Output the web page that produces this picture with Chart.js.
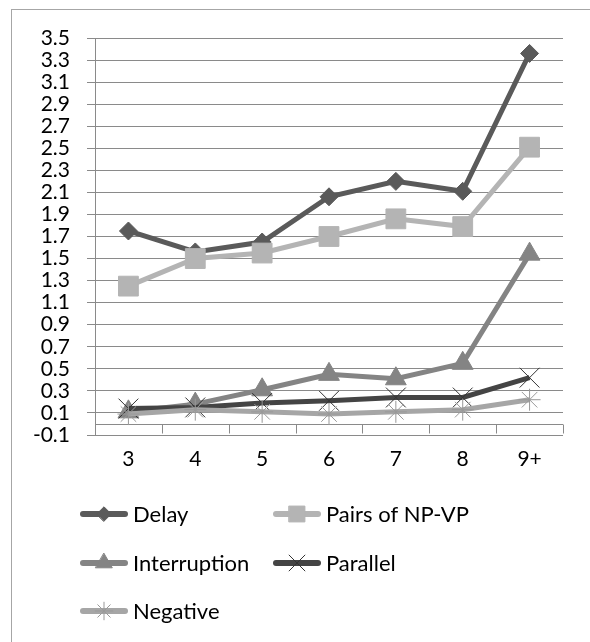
<!DOCTYPE html>
<html>
<head>
<meta charset="utf-8">
<script src="https://cdn.jsdelivr.net/npm/chart.js@4.4.0/dist/chart.umd.min.js"></script>
<style>
  html, body { margin: 0; padding: 0; background: #fff; overflow: hidden; }
  #frame { position: absolute; left: 11px; top: 9px; width: 700px; height: 700px; border: 1px solid #a6a6a6; }
  #chart { position: absolute; left: 0; top: 0; }
</style>
</head>
<body>
<div id="frame"></div>
<canvas id="chart" width="590" height="642"></canvas>
<script>
const categories = ["3", "4", "5", "6", "7", "8", "9+"];
const delay = [1.75, 1.56, 1.65, 2.06, 2.2, 2.11, 3.36];
const pairsNpVp = [1.25, 1.5, 1.55, 1.7, 1.86, 1.79, 2.51];
const interruption = [0.11, 0.18, 0.31, 0.45, 0.41, 0.55, 1.54];
const parallel = [0.14, 0.15, 0.19, 0.21, 0.24, 0.24, 0.42];
const negative = [0.09, 0.13, 0.11, 0.09, 0.11, 0.13, 0.22];
const yTicks = [-0.1, 0.1, 0.3, 0.5, 0.7, 0.9, 1.1, 1.3, 1.5, 1.7, 1.9, 2.1, 2.3, 2.5, 2.7, 2.9, 3.1, 3.3, 3.5];

const GRID = "#8a8a8a";
const FONT = "Lato";

// legend slots: left x of the line sample, centre y of the row
const legendSlots = [
  { x: 80, y: 514 }, { x: 273, y: 514 },
  { x: 80, y: 563 }, { x: 273, y: 563 },
  { x: 80, y: 611 },
];

function series(label, data, color, style, radius, extra) {
  return Object.assign({
    label,
    data,
    borderColor: color,
    backgroundColor: color,
    borderWidth: 5,
    pointStyle: style,
    pointRadius: radius,
    pointHoverRadius: radius,
    pointBackgroundColor: color,
    pointBorderColor: color,
    pointBorderWidth: 1,
    tension: 0,
  }, extra || {});
}

const zeroAxis = {
  id: "zeroAxis",
  beforeDatasetsDraw(chart) {
    const { ctx, chartArea, scales } = chart;
    const x = scales.x;
    const y0 = Math.round(scales.y.getPixelForValue(0)) + 0.5;
    ctx.save();
    ctx.strokeStyle = GRID;
    ctx.lineWidth = 1;
    ctx.beginPath();
    ctx.moveTo(chartArea.left, y0);
    ctx.lineTo(chartArea.right, y0);
    for (let i = 0; i <= categories.length; i++) {
      let px;
      if (i === 0) px = chartArea.left;
      else if (i === categories.length) px = chartArea.right;
      else px = (x.getPixelForValue(i - 1) + x.getPixelForValue(i)) / 2;
      px = Math.round(px) + 0.5;
      ctx.moveTo(px, y0);
      ctx.lineTo(px, y0 + 9);
    }
    ctx.stroke();
    ctx.restore();
  },
};

const sideLegend = {
  id: "sideLegend",
  afterDraw(chart) {
    const ctx = chart.ctx;
    chart.data.datasets.forEach((ds, i) => {
      const slot = legendSlots[i];
      if (!slot) return;
      ctx.save();
      ctx.strokeStyle = ds.borderColor;
      ctx.lineWidth = 6;
      ctx.lineCap = "round";
      ctx.beginPath();
      ctx.moveTo(slot.x + 3, slot.y);
      ctx.lineTo(slot.x + 45, slot.y);
      ctx.stroke();
      ctx.fillStyle = ds.pointBackgroundColor;
      ctx.strokeStyle = ds.pointBorderColor;
      ctx.lineWidth = ds.pointBorderWidth;
      Chart.helpers.drawPoint(ctx, {
        pointStyle: ds.pointStyle,
        radius: ds.pointRadius * 0.8,
        rotation: 0,
        borderWidth: ds.pointBorderWidth,
      }, slot.x + 24, slot.y);
      ctx.fillStyle = "#000";
      ctx.font = `22px ${FONT}`;
      ctx.textBaseline = "alphabetic";
      ctx.fillText(ds.label, slot.x + 53, slot.y + 8);
      ctx.restore();
    });
  },
};

new Chart(document.getElementById("chart"), {
  type: "line",
  data: {
    labels: categories,
    datasets: [
      series("Delay", delay, "#5a5a5a", "rectRot", 9, { order: 5 }),
      series("Pairs of NP-VP", pairsNpVp, "#b4b4b4", "rect", 14, { order: 4 }),
      series("Interruption", interruption, "#848484", "triangle", 12, { order: 3 }),
      series("Parallel", parallel, "#444444", "crossRot", 14, { order: 2, pointBorderColor: "#333" }),
      series("Negative", negative, "#a6a6a6", "star", 11, { order: 1, pointBorderColor: "#999" }),
    ],
  },
  options: {
    responsive: false,
    animation: false,
    layout: { padding: { left: 0, right: 27, top: 38, bottom: 167 } },
    plugins: {
      legend: { display: false },
      tooltip: { enabled: false },
    },
    scales: {
      x: {
        offset: true,
        grid: { display: false, drawTicks: false },
        border: { display: false },
        ticks: { color: "#000", font: { family: FONT, size: 21 }, padding: 12, maxRotation: 0, autoSkip: false },
        afterFit(scale) { scale.height = 40; },
      },
      y: {
        min: -0.1,
        max: 3.5,
        afterBuildTicks(scale) { scale.ticks = yTicks.map((v) => ({ value: v })); },
        ticks: {
          color: "#000",
          font: { family: FONT, size: 21 },
          padding: 17,
          autoSkip: false,
          callback: (v) => Number(v).toFixed(1),
        },
        grid: { color: GRID, tickLength: 8, lineWidth: 1 },
        border: { color: GRID },
        afterFit(scale) { scale.width = 95; },
      },
    },
  },
  plugins: [zeroAxis, sideLegend],
});
</script>
</body>
</html>
